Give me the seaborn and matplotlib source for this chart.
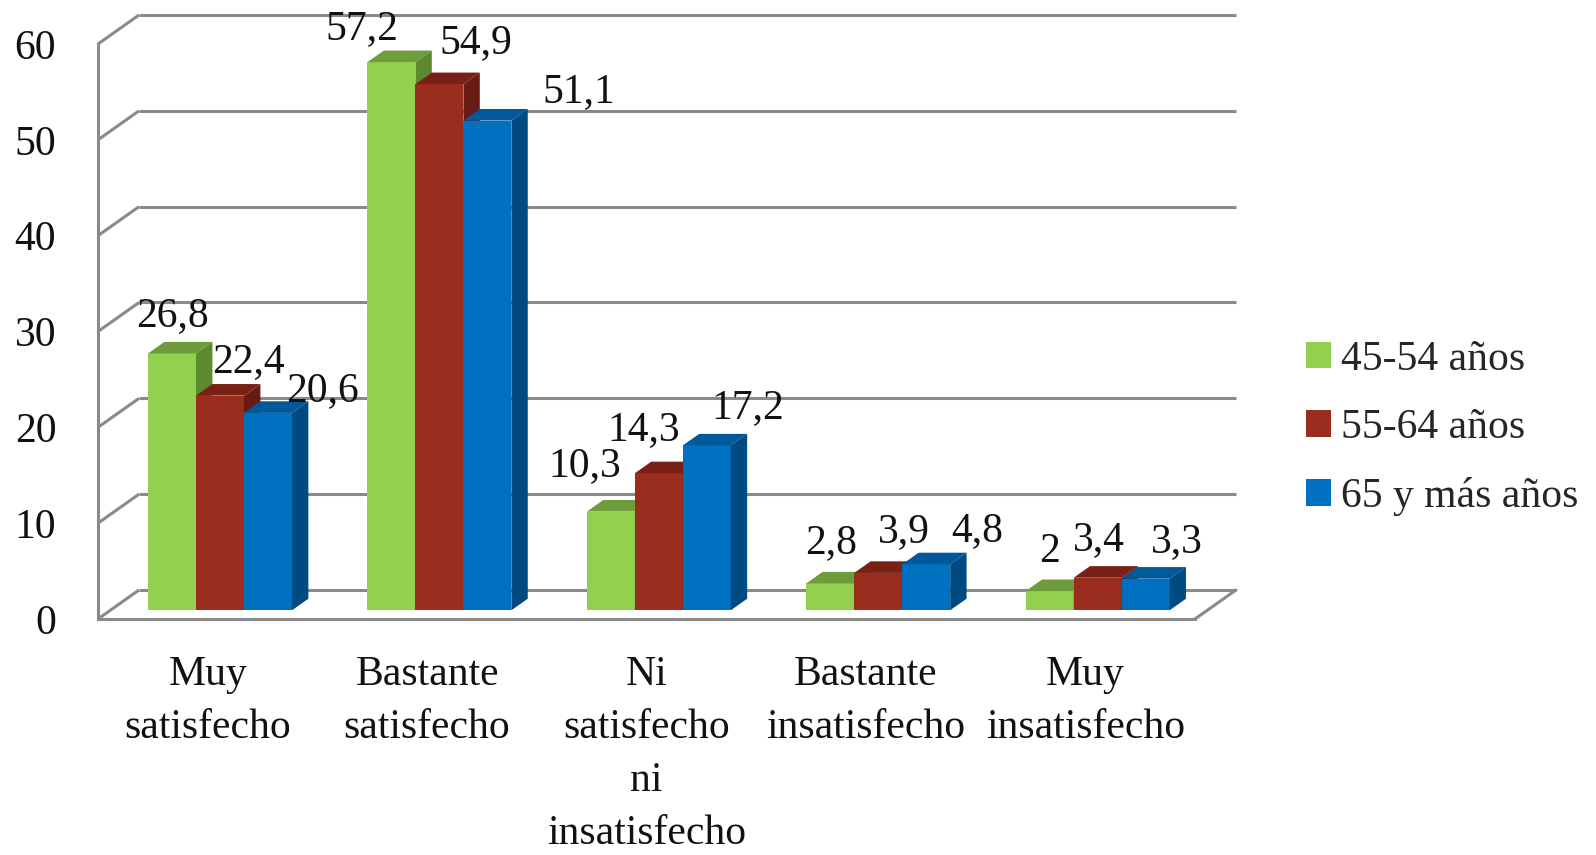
import numpy as np
import pandas as pd
import matplotlib
matplotlib.use("Agg")
import matplotlib.pyplot as plt
from matplotlib.patches import Polygon, Patch
import seaborn as sns

# ---- data -------------------------------------------------------------
categories = [
    "Muy\nsatisfecho",
    "Bastante\nsatisfecho",
    "Ni\nsatisfecho\nni\ninsatisfecho",
    "Bastante\ninsatisfecho",
    "Muy\ninsatisfecho",
]
groups = ["45-54 años", "55-64 años", "65 y más años"]
vals_45_54 = [26.8, 57.2, 10.3, 2.8, 2.0]
vals_55_64 = [22.4, 54.9, 14.3, 3.9, 3.4]
vals_65_mas = [20.6, 51.1, 17.2, 4.8, 3.3]
y_ticks = [0, 10, 20, 30, 40, 50, 60]

# ---- style ------------------------------------------------------------
front_col = ["#92D050", "#9B2D1F", "#0070C0"]
top_col = ["#6E9B3B", "#792116", "#00599B"]
side_col = ["#5D8A2E", "#681B12", "#004A82"]
grid_col = "#8A8A8A"

# value-label nudges in pixels (dx, dy above the bar's front top edge)
label_nudge = [
    [(0, 27), (-30, 23), (-26, 35), (1, 30), (0, 29)],
    [(28, 24), (36, 31), (-15, 33), (26, 31), (1, 28)],
    [(55, 12), (91, 18), (41, 27), (51, 23), (31, 27)],
]

sns.set_style("white")
plt.rcParams["font.family"] = ["Liberation Serif", "DejaVu Serif"]

W, H = 1596, 855
fig = plt.figure(figsize=(W / 100, H / 100), dpi=100)
ax_l, ax_r, ax_b, ax_t = 98, 1195, 619, 44
ax = fig.add_axes([ax_l / W, (H - ax_b) / H, (ax_r - ax_l) / W, (ax_b - ax_t) / H])

n_cat = len(categories)
xmin, xmax = -0.5, n_cat - 0.5
ymin, ymax = 0, 60
px_per_x = (ax_r - ax_l) / (xmax - xmin)
px_per_y = (ax_b - ax_t) / (ymax - ymin)

# oblique depth of the plot box, in data units
DX = 41 / px_per_x
DY = 29 / px_per_y
bar_front = 0.3   # fraction of depth where the bar fronts sit
bar_depth = 0.4   # fraction of depth occupied by the bars

rows = []
for g, vals in zip(groups, [vals_45_54, vals_55_64, vals_65_mas]):
    for c, v in zip(categories, vals):
        rows.append({"categoria": c, "grupo": g, "valor": v})
df = pd.DataFrame(rows)

sns.barplot(data=df, x="categoria", y="valor", hue="grupo", order=categories,
            hue_order=groups, palette=front_col, saturation=1, width=0.656,
            errorbar=None, legend=False, linewidth=0, ax=ax)

ax.set_xlim(xmin, xmax)
ax.set_ylim(ymin, ymax)

# ---- back wall, side wall and floor ------------------------------------
lw = 2.2
for v in y_ticks:
    ax.plot([xmin, xmin + DX], [v, v + DY], color=grid_col, lw=lw,
            clip_on=False, zorder=1, solid_capstyle="butt")
    ax.plot([xmin + DX, xmax + DX], [v + DY, v + DY], color=grid_col, lw=lw,
            clip_on=False, zorder=1, solid_capstyle="butt")
ax.plot([xmax, xmax + DX], [0, DY], color=grid_col, lw=lw, clip_on=False, zorder=1)

# ---- 3D bars -------------------------------------------------------------
bars = [p for p in ax.patches if p.get_width() > 0]
by_cat = {}
for p in bars:
    ci = int(round(p.get_x() + p.get_width() / 2))
    by_cat.setdefault(ci, []).append(p)

series = [vals_45_54, vals_55_64, vals_65_mas]
for ci, plist in by_cat.items():
    plist.sort(key=lambda p: p.get_x())
    for j, p in enumerate(plist):
        x0 = p.get_x() + bar_front * DX
        y0 = bar_front * DY
        w = p.get_width()
        h = p.get_height()
        p.set_x(x0)
        p.set_y(y0)
        p.set_zorder(3 + j)
        p.set_clip_on(False)
        ddx, ddy = bar_depth * DX, bar_depth * DY
        y1 = y0 + h
        topface = Polygon([(x0, y1), (x0 + w, y1), (x0 + w + ddx, y1 + ddy),
                           (x0 + ddx, y1 + ddy)], closed=True,
                          facecolor=top_col[j], edgecolor="none",
                          zorder=3 + j, clip_on=False)
        sideface = Polygon([(x0 + w, y0), (x0 + w + ddx, y0 + ddy),
                            (x0 + w + ddx, y1 + ddy), (x0 + w, y1)], closed=True,
                           facecolor=side_col[j], edgecolor="none",
                           zorder=3 + j, clip_on=False)
        ax.add_patch(topface)
        ax.add_patch(sideface)
        v = series[j][ci]
        dx, dy = label_nudge[j][ci]
        ax.annotate(f"{v:g}".replace(".", ","), xy=(x0 + w / 2, y1),
                    xytext=(dx, dy), textcoords="offset pixels",
                    ha="center", va="baseline", fontsize=30, color="#111111",
                    zorder=10, annotation_clip=False)

# ---- axes -----------------------------------------------------------------
for s in ["top", "right"]:
    ax.spines[s].set_visible(False)
for s in ["left", "bottom"]:
    ax.spines[s].set_color(grid_col)
    ax.spines[s].set_linewidth(lw)
    ax.spines[s].set_zorder(2)

ax.set_yticks(y_ticks)
ax.set_yticklabels([str(t) for t in y_ticks])
ax.tick_params(axis="y", length=8, width=1.6, color=grid_col, pad=22,
               labelsize=30, labelcolor="#111111")

ax.set_xticks(np.arange(xmin, xmax + 0.01, 1.0))
ax.set_xticklabels([])
ax.set_xticks(np.arange(n_cat), labels=categories, minor=True)
ax.tick_params(axis="x", which="major", length=10, width=1.6, color=grid_col)
ax.tick_params(axis="x", which="minor", length=0, pad=26, labelsize=30,
               labelcolor="#111111")
for t in ax.get_xticklabels(minor=True):
    t.set_linespacing(1.5)
ax.set_xlabel("")
ax.set_ylabel("")
ax.grid(False)
ax.patch.set_alpha(0)

# ---- legend ---------------------------------------------------------------
handles = [Patch(facecolor=c, edgecolor="none") for c in front_col]
fig.legend(handles, groups, loc="center left",
           bbox_to_anchor=(1306 / W, (H - 428) / H), frameon=False,
           fontsize=30, handlelength=0.6, handleheight=0.6,
           handletextpad=0.25, labelspacing=0.72, borderpad=0,
           borderaxespad=0)

fig.savefig("out.png", dpi=100)
